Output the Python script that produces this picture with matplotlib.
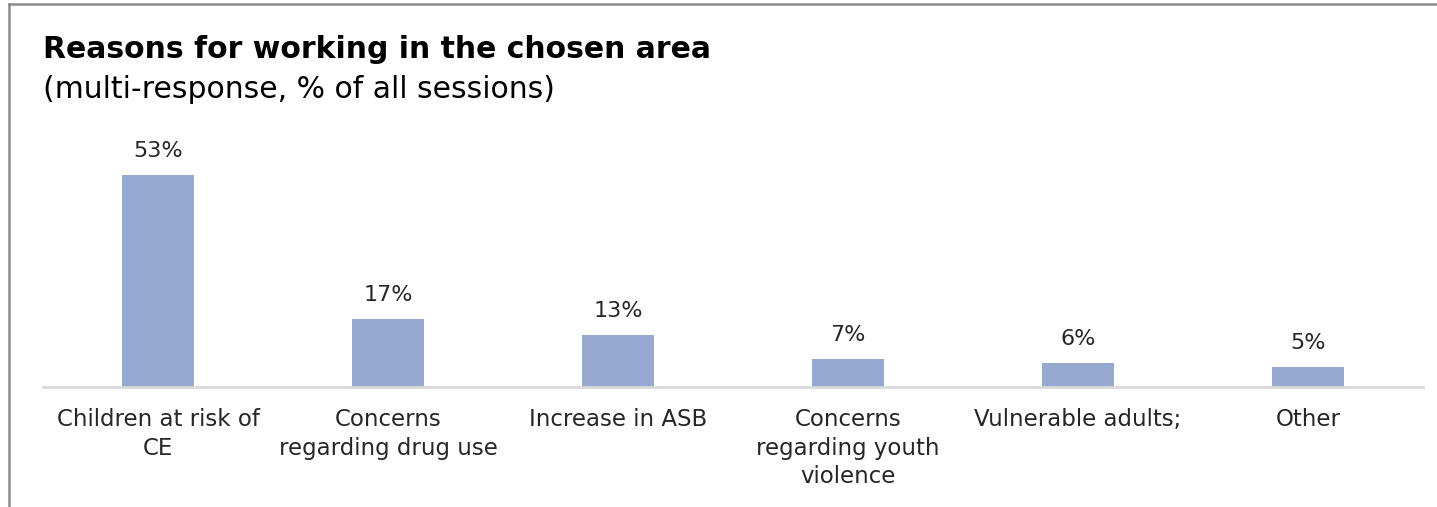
import matplotlib
matplotlib.use("Agg")
import matplotlib.pyplot as plt
from matplotlib.lines import Line2D

categories = ["Children at risk of\nCE", "Concerns\nregarding drug use", "Increase in ASB",
              "Concerns\nregarding youth\nviolence", "Vulnerable adults;", "Other"]
values = [53, 17, 13, 7, 6, 5]
labels = ["53%", "17%", "13%", "7%", "6%", "5%"]

W, H = 1437, 507
fig = plt.figure(figsize=(W / 100, H / 100), dpi=100)
plt.rcParams['font.family'] = ['DejaVu Sans']

# axes: x 43..1423, y baseline 387 .. top 147 (240 px -> 60 units)
ax = fig.add_axes([43 / W, 1 - 387 / H, 1380 / W, 240 / H])
x = list(range(len(values)))
ax.bar(x, values, width=0.313, color="#95A9D1", zorder=2)
ax.set_xlim(-0.5, len(values) - 0.5)
ax.set_ylim(0, 60)
for xi, v, lab in zip(x, values, labels):
    ax.annotate(lab, (xi, v), xytext=(0, 10), textcoords="offset points",
                ha="center", va="bottom", fontsize=16, color="#262626")
for s in ["top", "right", "left"]:
    ax.spines[s].set_visible(False)
ax.spines["bottom"].set_color("#D9D9D9")
ax.spines["bottom"].set_linewidth(2)
ax.set_yticks([])
ax.set_xticks(x)
ax.set_xticklabels(categories, fontsize=16.5, color="#262626", linespacing=1.32)
ax.tick_params(axis="x", length=0, pad=15)

fig.text(43 / W, 1 - 58 / H, "Reasons for working in the chosen area", fontsize=21.5,
         fontweight="bold", color="black", ha="left", va="baseline")
fig.text(43 / W, 1 - 98 / H, "(multi-response, % of all sessions)", fontsize=21.5,
         color="black", ha="left", va="baseline")

# outer border (cropped chart frame)
fig.add_artist(Line2D([8.5 / W, 8.5 / W], [0, 1 - 4 / H], transform=fig.transFigure,
                      color="#8C8C8C", lw=1.8))
fig.add_artist(Line2D([8.5 / W, 1], [1 - 4 / H, 1 - 4 / H], transform=fig.transFigure,
                      color="#8C8C8C", lw=1.8))

fig.savefig("out.png", dpi=100)
